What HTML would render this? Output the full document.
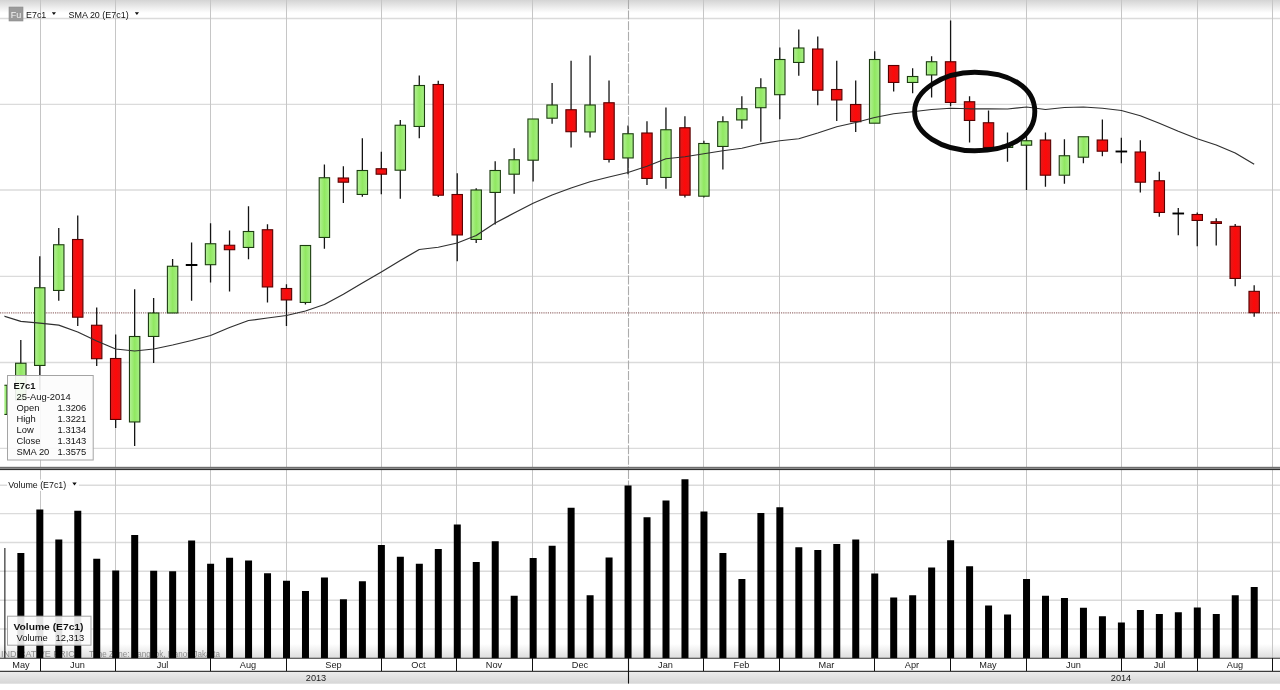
<!DOCTYPE html>
<html><head><meta charset="utf-8"><title>Chart</title>
<style>html,body{margin:0;padding:0;background:#fff;overflow:hidden}body{width:1280px;height:690px;position:relative}</style></head>
<body>
<svg width="1280" height="690" viewBox="0 0 1280 690" style="display:block;position:absolute;left:0;top:0">
<defs>
<linearGradient id="topg" x1="0" y1="0" x2="0" y2="1"><stop offset="0" stop-color="#d4d4d4"/><stop offset="1" stop-color="#ffffff"/></linearGradient>
<linearGradient id="botg" x1="0" y1="0" x2="0" y2="1"><stop offset="0" stop-color="#ffffff"/><stop offset="1" stop-color="#dcdcdc"/></linearGradient>
<linearGradient id="yrg" x1="0" y1="0" x2="0" y2="1"><stop offset="0" stop-color="#ededed"/><stop offset="1" stop-color="#d6d6d6"/></linearGradient>
<linearGradient id="gg" x1="0" y1="0" x2="1" y2="0"><stop offset="0" stop-color="#b4f098"/><stop offset="0.5" stop-color="#90e860"/><stop offset="1" stop-color="#a8ee88"/></linearGradient>
<linearGradient id="rg" x1="0" y1="0" x2="1" y2="0"><stop offset="0" stop-color="#dc1c1c"/><stop offset="0.5" stop-color="#ff0808"/><stop offset="1" stop-color="#e01818"/></linearGradient>
<clipPath id="clipm"><rect x="4.4" y="0" width="1276" height="467"/></clipPath>
<clipPath id="clipv"><rect x="4.4" y="470" width="1276" height="188.3"/></clipPath>
</defs>
<rect x="0" y="0" width="1280" height="690" fill="#ffffff"/>
<rect x="0" y="0" width="1280" height="13" fill="url(#topg)"/>
<rect x="0" y="644" width="1280" height="14.5" fill="url(#botg)"/>
<g><line x1="0" x2="1280" y1="18.5" y2="18.5" stroke="#dbdbdb" stroke-width="1.35"/><line x1="0" x2="1280" y1="104.4" y2="104.4" stroke="#dbdbdb" stroke-width="1.35"/><line x1="0" x2="1280" y1="190.0" y2="190.0" stroke="#dbdbdb" stroke-width="1.35"/><line x1="0" x2="1280" y1="276.3" y2="276.3" stroke="#dbdbdb" stroke-width="1.35"/><line x1="0" x2="1280" y1="362.5" y2="362.5" stroke="#dbdbdb" stroke-width="1.35"/><line x1="0" x2="1280" y1="448.3" y2="448.3" stroke="#dbdbdb" stroke-width="1.35"/><line x1="0" x2="1280" y1="485.2" y2="485.2" stroke="#dbdbdb" stroke-width="1.35"/><line x1="0" x2="1280" y1="513.6" y2="513.6" stroke="#dbdbdb" stroke-width="1.35"/><line x1="0" x2="1280" y1="542.5" y2="542.5" stroke="#dbdbdb" stroke-width="1.35"/><line x1="0" x2="1280" y1="571.2" y2="571.2" stroke="#dbdbdb" stroke-width="1.35"/><line x1="0" x2="1280" y1="600.2" y2="600.2" stroke="#dbdbdb" stroke-width="1.35"/><line x1="0" x2="1280" y1="629.0" y2="629.0" stroke="#dbdbdb" stroke-width="1.35"/><line x1="40.5" x2="40.5" y1="0" y2="467" stroke="#c6c6c6" stroke-width="1"/><line x1="40.5" x2="40.5" y1="470" y2="658" stroke="#c6c6c6" stroke-width="1"/><line x1="115.5" x2="115.5" y1="0" y2="467" stroke="#c6c6c6" stroke-width="1"/><line x1="115.5" x2="115.5" y1="470" y2="658" stroke="#c6c6c6" stroke-width="1"/><line x1="210.5" x2="210.5" y1="0" y2="467" stroke="#c6c6c6" stroke-width="1"/><line x1="210.5" x2="210.5" y1="470" y2="658" stroke="#c6c6c6" stroke-width="1"/><line x1="286.5" x2="286.5" y1="0" y2="467" stroke="#c6c6c6" stroke-width="1"/><line x1="286.5" x2="286.5" y1="470" y2="658" stroke="#c6c6c6" stroke-width="1"/><line x1="381.5" x2="381.5" y1="0" y2="467" stroke="#c6c6c6" stroke-width="1"/><line x1="381.5" x2="381.5" y1="470" y2="658" stroke="#c6c6c6" stroke-width="1"/><line x1="456.5" x2="456.5" y1="0" y2="467" stroke="#c6c6c6" stroke-width="1"/><line x1="456.5" x2="456.5" y1="470" y2="658" stroke="#c6c6c6" stroke-width="1"/><line x1="532.5" x2="532.5" y1="0" y2="467" stroke="#c6c6c6" stroke-width="1"/><line x1="532.5" x2="532.5" y1="470" y2="658" stroke="#c6c6c6" stroke-width="1"/><line x1="703.5" x2="703.5" y1="0" y2="467" stroke="#c6c6c6" stroke-width="1"/><line x1="703.5" x2="703.5" y1="470" y2="658" stroke="#c6c6c6" stroke-width="1"/><line x1="779.5" x2="779.5" y1="0" y2="467" stroke="#c6c6c6" stroke-width="1"/><line x1="779.5" x2="779.5" y1="470" y2="658" stroke="#c6c6c6" stroke-width="1"/><line x1="874.5" x2="874.5" y1="0" y2="467" stroke="#c6c6c6" stroke-width="1"/><line x1="874.5" x2="874.5" y1="470" y2="658" stroke="#c6c6c6" stroke-width="1"/><line x1="950.5" x2="950.5" y1="0" y2="467" stroke="#c6c6c6" stroke-width="1"/><line x1="950.5" x2="950.5" y1="470" y2="658" stroke="#c6c6c6" stroke-width="1"/><line x1="1026.5" x2="1026.5" y1="0" y2="467" stroke="#c6c6c6" stroke-width="1"/><line x1="1026.5" x2="1026.5" y1="470" y2="658" stroke="#c6c6c6" stroke-width="1"/><line x1="1121.5" x2="1121.5" y1="0" y2="467" stroke="#c6c6c6" stroke-width="1"/><line x1="1121.5" x2="1121.5" y1="470" y2="658" stroke="#c6c6c6" stroke-width="1"/><line x1="1197.5" x2="1197.5" y1="0" y2="467" stroke="#c6c6c6" stroke-width="1"/><line x1="1197.5" x2="1197.5" y1="470" y2="658" stroke="#c6c6c6" stroke-width="1"/><line x1="1272.5" x2="1272.5" y1="0" y2="467" stroke="#c6c6c6" stroke-width="1"/><line x1="1272.5" x2="1272.5" y1="470" y2="658" stroke="#c6c6c6" stroke-width="1"/><line x1="628.5" x2="628.5" y1="0" y2="467" stroke="#acacac" stroke-width="1.1" stroke-dasharray="9 1.6"/><line x1="628.5" x2="628.5" y1="470" y2="658" stroke="#acacac" stroke-width="1.1" stroke-dasharray="9 1.6"/></g>
<line x1="0" x2="1280" y1="312.9" y2="312.9" stroke="#9c7474" stroke-width="1.3" stroke-dasharray="1.2 1"/>
<text x="1" y="657" font-family='"Liberation Sans", sans-serif' font-size="9" fill="#8c8c8c" xml:space="preserve"><tspan>INDICATIVE PRICE</tspan><tspan x="89" textLength="131" lengthAdjust="spacingAndGlyphs">Time Zone: Bangkok, Hanoi, Jakarta</tspan></text>
<g clip-path="url(#clipv)"><rect x="-1.63" y="548" width="7" height="112.00" fill="#000"/><rect x="17.35" y="553" width="7" height="107.00" fill="#000"/><rect x="36.33" y="509.5" width="7" height="150.50" fill="#000"/><rect x="55.30" y="539.5" width="7" height="120.50" fill="#000"/><rect x="74.28" y="510.75" width="7" height="149.25" fill="#000"/><rect x="93.25" y="558.75" width="7" height="101.25" fill="#000"/><rect x="112.22" y="570.5" width="7" height="89.50" fill="#000"/><rect x="131.20" y="535" width="7" height="125.00" fill="#000"/><rect x="150.18" y="570.75" width="7" height="89.25" fill="#000"/><rect x="169.15" y="571.25" width="7" height="88.75" fill="#000"/><rect x="188.13" y="540.5" width="7" height="119.50" fill="#000"/><rect x="207.10" y="563.75" width="7" height="96.25" fill="#000"/><rect x="226.08" y="557.75" width="7" height="102.25" fill="#000"/><rect x="245.05" y="560.5" width="7" height="99.50" fill="#000"/><rect x="264.03" y="573.25" width="7" height="86.75" fill="#000"/><rect x="283.00" y="580.75" width="7" height="79.25" fill="#000"/><rect x="301.98" y="591" width="7" height="69.00" fill="#000"/><rect x="320.95" y="577.5" width="7" height="82.50" fill="#000"/><rect x="339.93" y="599.25" width="7" height="60.75" fill="#000"/><rect x="358.90" y="581.25" width="7" height="78.75" fill="#000"/><rect x="377.88" y="545" width="7" height="115.00" fill="#000"/><rect x="396.85" y="556.75" width="7" height="103.25" fill="#000"/><rect x="415.83" y="563.75" width="7" height="96.25" fill="#000"/><rect x="434.80" y="549" width="7" height="111.00" fill="#000"/><rect x="453.78" y="524.5" width="7" height="135.50" fill="#000"/><rect x="472.75" y="562" width="7" height="98.00" fill="#000"/><rect x="491.73" y="541.25" width="7" height="118.75" fill="#000"/><rect x="510.70" y="595.75" width="7" height="64.25" fill="#000"/><rect x="529.67" y="558" width="7" height="102.00" fill="#000"/><rect x="548.65" y="545.75" width="7" height="114.25" fill="#000"/><rect x="567.62" y="507.75" width="7" height="152.25" fill="#000"/><rect x="586.60" y="595.25" width="7" height="64.75" fill="#000"/><rect x="605.57" y="557.5" width="7" height="102.50" fill="#000"/><rect x="624.55" y="485.5" width="7" height="174.50" fill="#000"/><rect x="643.52" y="517.25" width="7" height="142.75" fill="#000"/><rect x="662.50" y="500.5" width="7" height="159.50" fill="#000"/><rect x="681.47" y="479.25" width="7" height="180.75" fill="#000"/><rect x="700.45" y="511.5" width="7" height="148.50" fill="#000"/><rect x="719.42" y="553" width="7" height="107.00" fill="#000"/><rect x="738.40" y="579" width="7" height="81.00" fill="#000"/><rect x="757.38" y="513" width="7" height="147.00" fill="#000"/><rect x="776.35" y="507.25" width="7" height="152.75" fill="#000"/><rect x="795.32" y="547.25" width="7" height="112.75" fill="#000"/><rect x="814.30" y="550" width="7" height="110.00" fill="#000"/><rect x="833.27" y="544" width="7" height="116.00" fill="#000"/><rect x="852.25" y="539.5" width="7" height="120.50" fill="#000"/><rect x="871.23" y="573.5" width="7" height="86.50" fill="#000"/><rect x="890.20" y="597.5" width="7" height="62.50" fill="#000"/><rect x="909.17" y="595.25" width="7" height="64.75" fill="#000"/><rect x="928.15" y="567.5" width="7" height="92.50" fill="#000"/><rect x="947.12" y="540.25" width="7" height="119.75" fill="#000"/><rect x="966.10" y="566.25" width="7" height="93.75" fill="#000"/><rect x="985.07" y="605.5" width="7" height="54.50" fill="#000"/><rect x="1004.05" y="614.5" width="7" height="45.50" fill="#000"/><rect x="1023.03" y="579" width="7" height="81.00" fill="#000"/><rect x="1042.00" y="595.75" width="7" height="64.25" fill="#000"/><rect x="1060.97" y="598" width="7" height="62.00" fill="#000"/><rect x="1079.95" y="607.75" width="7" height="52.25" fill="#000"/><rect x="1098.92" y="616.25" width="7" height="43.75" fill="#000"/><rect x="1117.90" y="622.5" width="7" height="37.50" fill="#000"/><rect x="1136.88" y="610" width="7" height="50.00" fill="#000"/><rect x="1155.85" y="614" width="7" height="46.00" fill="#000"/><rect x="1174.83" y="612.25" width="7" height="47.75" fill="#000"/><rect x="1193.80" y="607.5" width="7" height="52.50" fill="#000"/><rect x="1212.78" y="614" width="7" height="46.00" fill="#000"/><rect x="1231.75" y="595.25" width="7" height="64.75" fill="#000"/><rect x="1250.72" y="587" width="7" height="73.00" fill="#000"/></g>
<g clip-path="url(#clipm)"><rect x="-3.38" y="385.25" width="10.4" height="29.20" fill="url(#gg)" stroke="#1c3c10" stroke-width="1.1"/><line x1="20.80" x2="20.80" y1="340" y2="363.5" stroke="#141414" stroke-width="1.3"/><rect x="15.60" y="363.25" width="10.4" height="36.70" fill="url(#gg)" stroke="#1c3c10" stroke-width="1.1"/><line x1="39.78" x2="39.78" y1="256.25" y2="288.0" stroke="#141414" stroke-width="1.3"/><line x1="39.78" x2="39.78" y1="365.0" y2="390" stroke="#141414" stroke-width="1.3"/><rect x="34.58" y="287.75" width="10.4" height="77.70" fill="url(#gg)" stroke="#1c3c10" stroke-width="1.1"/><line x1="58.75" x2="58.75" y1="228" y2="245.0" stroke="#141414" stroke-width="1.3"/><line x1="58.75" x2="58.75" y1="290.0" y2="300.75" stroke="#141414" stroke-width="1.3"/><rect x="53.55" y="244.75" width="10.4" height="45.70" fill="url(#gg)" stroke="#1c3c10" stroke-width="1.1"/><line x1="77.73" x2="77.73" y1="215.5" y2="239.75" stroke="#141414" stroke-width="1.3"/><line x1="77.73" x2="77.73" y1="316.75" y2="326" stroke="#141414" stroke-width="1.3"/><rect x="72.53" y="239.50" width="10.4" height="77.70" fill="url(#rg)" stroke="#5a0000" stroke-width="1.1"/><line x1="96.70" x2="96.70" y1="307.5" y2="325.5" stroke="#141414" stroke-width="1.3"/><line x1="96.70" x2="96.70" y1="358.25" y2="366" stroke="#141414" stroke-width="1.3"/><rect x="91.50" y="325.25" width="10.4" height="33.45" fill="url(#rg)" stroke="#5a0000" stroke-width="1.1"/><line x1="115.67" x2="115.67" y1="334.5" y2="358.75" stroke="#141414" stroke-width="1.3"/><line x1="115.67" x2="115.67" y1="419.0" y2="428" stroke="#141414" stroke-width="1.3"/><rect x="110.47" y="358.50" width="10.4" height="60.95" fill="url(#rg)" stroke="#5a0000" stroke-width="1.1"/><line x1="134.65" x2="134.65" y1="289.25" y2="336.75" stroke="#141414" stroke-width="1.3"/><line x1="134.65" x2="134.65" y1="421.5" y2="446" stroke="#141414" stroke-width="1.3"/><rect x="129.45" y="336.50" width="10.4" height="85.45" fill="url(#gg)" stroke="#1c3c10" stroke-width="1.1"/><line x1="153.63" x2="153.63" y1="298" y2="313.25" stroke="#141414" stroke-width="1.3"/><line x1="153.63" x2="153.63" y1="336.0" y2="363" stroke="#141414" stroke-width="1.3"/><rect x="148.43" y="313.00" width="10.4" height="23.45" fill="url(#gg)" stroke="#1c3c10" stroke-width="1.1"/><line x1="172.60" x2="172.60" y1="259" y2="266.5" stroke="#141414" stroke-width="1.3"/><rect x="167.40" y="266.25" width="10.4" height="46.70" fill="url(#gg)" stroke="#1c3c10" stroke-width="1.1"/><line x1="191.58" x2="191.58" y1="242.5" y2="265.5" stroke="#141414" stroke-width="1.3"/><line x1="191.58" x2="191.58" y1="264.5" y2="300.75" stroke="#141414" stroke-width="1.3"/><line x1="185.78" x2="197.38" y1="265" y2="265" stroke="#000" stroke-width="1.9"/><line x1="210.55" x2="210.55" y1="223.25" y2="244.0" stroke="#141414" stroke-width="1.3"/><line x1="210.55" x2="210.55" y1="264.25" y2="282.5" stroke="#141414" stroke-width="1.3"/><rect x="205.35" y="243.75" width="10.4" height="20.95" fill="url(#gg)" stroke="#1c3c10" stroke-width="1.1"/><line x1="229.53" x2="229.53" y1="230.5" y2="245.5" stroke="#141414" stroke-width="1.3"/><line x1="229.53" x2="229.53" y1="249.25" y2="291.5" stroke="#141414" stroke-width="1.3"/><rect x="224.33" y="245.25" width="10.4" height="4.45" fill="url(#rg)" stroke="#5a0000" stroke-width="1.1"/><line x1="248.50" x2="248.50" y1="206.25" y2="231.75" stroke="#141414" stroke-width="1.3"/><line x1="248.50" x2="248.50" y1="247.0" y2="259.25" stroke="#141414" stroke-width="1.3"/><rect x="243.30" y="231.50" width="10.4" height="15.95" fill="url(#gg)" stroke="#1c3c10" stroke-width="1.1"/><line x1="267.48" x2="267.48" y1="224.25" y2="230.0" stroke="#141414" stroke-width="1.3"/><line x1="267.48" x2="267.48" y1="286.5" y2="302.5" stroke="#141414" stroke-width="1.3"/><rect x="262.28" y="229.75" width="10.4" height="57.20" fill="url(#rg)" stroke="#5a0000" stroke-width="1.1"/><line x1="286.45" x2="286.45" y1="284.25" y2="288.75" stroke="#141414" stroke-width="1.3"/><line x1="286.45" x2="286.45" y1="299.5" y2="326" stroke="#141414" stroke-width="1.3"/><rect x="281.25" y="288.50" width="10.4" height="11.45" fill="url(#rg)" stroke="#5a0000" stroke-width="1.1"/><line x1="305.43" x2="305.43" y1="302.0" y2="304.5" stroke="#141414" stroke-width="1.3"/><rect x="300.23" y="245.50" width="10.4" height="56.95" fill="url(#gg)" stroke="#1c3c10" stroke-width="1.1"/><line x1="324.40" x2="324.40" y1="164.5" y2="178.0" stroke="#141414" stroke-width="1.3"/><line x1="324.40" x2="324.40" y1="237.0" y2="248.75" stroke="#141414" stroke-width="1.3"/><rect x="319.20" y="177.75" width="10.4" height="59.70" fill="url(#gg)" stroke="#1c3c10" stroke-width="1.1"/><line x1="343.38" x2="343.38" y1="166.25" y2="178.25" stroke="#141414" stroke-width="1.3"/><line x1="343.38" x2="343.38" y1="181.75" y2="203" stroke="#141414" stroke-width="1.3"/><rect x="338.18" y="178.00" width="10.4" height="4.20" fill="url(#rg)" stroke="#5a0000" stroke-width="1.1"/><line x1="362.35" x2="362.35" y1="138.25" y2="170.75" stroke="#141414" stroke-width="1.3"/><line x1="362.35" x2="362.35" y1="194.0" y2="196.75" stroke="#141414" stroke-width="1.3"/><rect x="357.15" y="170.50" width="10.4" height="23.95" fill="url(#gg)" stroke="#1c3c10" stroke-width="1.1"/><line x1="381.33" x2="381.33" y1="151.75" y2="169.0" stroke="#141414" stroke-width="1.3"/><line x1="381.33" x2="381.33" y1="173.75" y2="194.25" stroke="#141414" stroke-width="1.3"/><rect x="376.13" y="168.75" width="10.4" height="5.45" fill="url(#rg)" stroke="#5a0000" stroke-width="1.1"/><line x1="400.30" x2="400.30" y1="120" y2="125.5" stroke="#141414" stroke-width="1.3"/><line x1="400.30" x2="400.30" y1="169.75" y2="198.75" stroke="#141414" stroke-width="1.3"/><rect x="395.10" y="125.25" width="10.4" height="44.95" fill="url(#gg)" stroke="#1c3c10" stroke-width="1.1"/><line x1="419.28" x2="419.28" y1="75.5" y2="85.75" stroke="#141414" stroke-width="1.3"/><line x1="419.28" x2="419.28" y1="126.0" y2="138.25" stroke="#141414" stroke-width="1.3"/><rect x="414.08" y="85.50" width="10.4" height="40.95" fill="url(#gg)" stroke="#1c3c10" stroke-width="1.1"/><line x1="438.25" x2="438.25" y1="80.75" y2="84.75" stroke="#141414" stroke-width="1.3"/><line x1="438.25" x2="438.25" y1="194.75" y2="197" stroke="#141414" stroke-width="1.3"/><rect x="433.05" y="84.50" width="10.4" height="110.70" fill="url(#rg)" stroke="#5a0000" stroke-width="1.1"/><line x1="457.23" x2="457.23" y1="173.25" y2="194.75" stroke="#141414" stroke-width="1.3"/><line x1="457.23" x2="457.23" y1="234.5" y2="261.25" stroke="#141414" stroke-width="1.3"/><rect x="452.03" y="194.50" width="10.4" height="40.45" fill="url(#rg)" stroke="#5a0000" stroke-width="1.1"/><line x1="476.20" x2="476.20" y1="188.25" y2="190.25" stroke="#141414" stroke-width="1.3"/><line x1="476.20" x2="476.20" y1="239.0" y2="243" stroke="#141414" stroke-width="1.3"/><rect x="471.00" y="190.00" width="10.4" height="49.45" fill="url(#gg)" stroke="#1c3c10" stroke-width="1.1"/><line x1="495.18" x2="495.18" y1="161.25" y2="170.75" stroke="#141414" stroke-width="1.3"/><line x1="495.18" x2="495.18" y1="192.0" y2="224.5" stroke="#141414" stroke-width="1.3"/><rect x="489.98" y="170.50" width="10.4" height="21.95" fill="url(#gg)" stroke="#1c3c10" stroke-width="1.1"/><line x1="514.15" x2="514.15" y1="148.25" y2="160.0" stroke="#141414" stroke-width="1.3"/><line x1="514.15" x2="514.15" y1="173.75" y2="193.75" stroke="#141414" stroke-width="1.3"/><rect x="508.95" y="159.75" width="10.4" height="14.45" fill="url(#gg)" stroke="#1c3c10" stroke-width="1.1"/><line x1="533.12" x2="533.12" y1="159.75" y2="181.5" stroke="#141414" stroke-width="1.3"/><rect x="527.92" y="119.00" width="10.4" height="41.20" fill="url(#gg)" stroke="#1c3c10" stroke-width="1.1"/><line x1="552.10" x2="552.10" y1="83" y2="105.25" stroke="#141414" stroke-width="1.3"/><line x1="552.10" x2="552.10" y1="117.75" y2="123.75" stroke="#141414" stroke-width="1.3"/><rect x="546.90" y="105.00" width="10.4" height="13.20" fill="url(#gg)" stroke="#1c3c10" stroke-width="1.1"/><line x1="571.08" x2="571.08" y1="60.75" y2="110.0" stroke="#141414" stroke-width="1.3"/><line x1="571.08" x2="571.08" y1="131.25" y2="147.5" stroke="#141414" stroke-width="1.3"/><rect x="565.88" y="109.75" width="10.4" height="21.95" fill="url(#rg)" stroke="#5a0000" stroke-width="1.1"/><line x1="590.05" x2="590.05" y1="55.5" y2="105.25" stroke="#141414" stroke-width="1.3"/><line x1="590.05" x2="590.05" y1="131.5" y2="137.5" stroke="#141414" stroke-width="1.3"/><rect x="584.85" y="105.00" width="10.4" height="26.95" fill="url(#gg)" stroke="#1c3c10" stroke-width="1.1"/><line x1="609.02" x2="609.02" y1="80.5" y2="103.0" stroke="#141414" stroke-width="1.3"/><line x1="609.02" x2="609.02" y1="159.0" y2="162.5" stroke="#141414" stroke-width="1.3"/><rect x="603.82" y="102.75" width="10.4" height="56.70" fill="url(#rg)" stroke="#5a0000" stroke-width="1.1"/><line x1="628.00" x2="628.00" y1="125.5" y2="134.0" stroke="#141414" stroke-width="1.3"/><line x1="628.00" x2="628.00" y1="157.5" y2="174.25" stroke="#141414" stroke-width="1.3"/><rect x="622.80" y="133.75" width="10.4" height="24.20" fill="url(#gg)" stroke="#1c3c10" stroke-width="1.1"/><line x1="646.98" x2="646.98" y1="121.25" y2="133.25" stroke="#141414" stroke-width="1.3"/><line x1="646.98" x2="646.98" y1="178.0" y2="185" stroke="#141414" stroke-width="1.3"/><rect x="641.77" y="133.00" width="10.4" height="45.45" fill="url(#rg)" stroke="#5a0000" stroke-width="1.1"/><line x1="665.95" x2="665.95" y1="107.5" y2="130.0" stroke="#141414" stroke-width="1.3"/><line x1="665.95" x2="665.95" y1="177.0" y2="188.75" stroke="#141414" stroke-width="1.3"/><rect x="660.75" y="129.75" width="10.4" height="47.70" fill="url(#gg)" stroke="#1c3c10" stroke-width="1.1"/><line x1="684.92" x2="684.92" y1="116.25" y2="128.0" stroke="#141414" stroke-width="1.3"/><line x1="684.92" x2="684.92" y1="194.75" y2="197.5" stroke="#141414" stroke-width="1.3"/><rect x="679.72" y="127.75" width="10.4" height="67.45" fill="url(#rg)" stroke="#5a0000" stroke-width="1.1"/><line x1="703.90" x2="703.90" y1="140.75" y2="143.75" stroke="#141414" stroke-width="1.3"/><line x1="703.90" x2="703.90" y1="195.75" y2="197.5" stroke="#141414" stroke-width="1.3"/><rect x="698.70" y="143.50" width="10.4" height="52.70" fill="url(#gg)" stroke="#1c3c10" stroke-width="1.1"/><line x1="722.88" x2="722.88" y1="116.25" y2="122.0" stroke="#141414" stroke-width="1.3"/><line x1="722.88" x2="722.88" y1="146.0" y2="169.5" stroke="#141414" stroke-width="1.3"/><rect x="717.67" y="121.75" width="10.4" height="24.70" fill="url(#gg)" stroke="#1c3c10" stroke-width="1.1"/><line x1="741.85" x2="741.85" y1="96.25" y2="109.0" stroke="#141414" stroke-width="1.3"/><line x1="741.85" x2="741.85" y1="119.5" y2="128.75" stroke="#141414" stroke-width="1.3"/><rect x="736.65" y="108.75" width="10.4" height="11.20" fill="url(#gg)" stroke="#1c3c10" stroke-width="1.1"/><line x1="760.83" x2="760.83" y1="78.25" y2="88.0" stroke="#141414" stroke-width="1.3"/><line x1="760.83" x2="760.83" y1="107.25" y2="141.75" stroke="#141414" stroke-width="1.3"/><rect x="755.62" y="87.75" width="10.4" height="19.95" fill="url(#gg)" stroke="#1c3c10" stroke-width="1.1"/><line x1="779.80" x2="779.80" y1="47.5" y2="59.75" stroke="#141414" stroke-width="1.3"/><line x1="779.80" x2="779.80" y1="94.25" y2="119.25" stroke="#141414" stroke-width="1.3"/><rect x="774.60" y="59.50" width="10.4" height="35.20" fill="url(#gg)" stroke="#1c3c10" stroke-width="1.1"/><line x1="798.77" x2="798.77" y1="29.5" y2="48.25" stroke="#141414" stroke-width="1.3"/><line x1="798.77" x2="798.77" y1="62.0" y2="75.75" stroke="#141414" stroke-width="1.3"/><rect x="793.57" y="48.00" width="10.4" height="14.45" fill="url(#gg)" stroke="#1c3c10" stroke-width="1.1"/><line x1="817.75" x2="817.75" y1="36.5" y2="49.25" stroke="#141414" stroke-width="1.3"/><line x1="817.75" x2="817.75" y1="89.75" y2="105.25" stroke="#141414" stroke-width="1.3"/><rect x="812.55" y="49.00" width="10.4" height="41.20" fill="url(#rg)" stroke="#5a0000" stroke-width="1.1"/><line x1="836.73" x2="836.73" y1="60.75" y2="89.75" stroke="#141414" stroke-width="1.3"/><line x1="836.73" x2="836.73" y1="99.5" y2="121" stroke="#141414" stroke-width="1.3"/><rect x="831.52" y="89.50" width="10.4" height="10.45" fill="url(#rg)" stroke="#5a0000" stroke-width="1.1"/><line x1="855.70" x2="855.70" y1="80.5" y2="104.75" stroke="#141414" stroke-width="1.3"/><line x1="855.70" x2="855.70" y1="121.25" y2="132" stroke="#141414" stroke-width="1.3"/><rect x="850.50" y="104.50" width="10.4" height="17.20" fill="url(#rg)" stroke="#5a0000" stroke-width="1.1"/><line x1="874.68" x2="874.68" y1="51.25" y2="59.75" stroke="#141414" stroke-width="1.3"/><rect x="869.48" y="59.50" width="10.4" height="63.70" fill="url(#gg)" stroke="#1c3c10" stroke-width="1.1"/><line x1="893.65" x2="893.65" y1="82.0" y2="91.5" stroke="#141414" stroke-width="1.3"/><rect x="888.45" y="65.50" width="10.4" height="16.95" fill="url(#rg)" stroke="#5a0000" stroke-width="1.1"/><line x1="912.62" x2="912.62" y1="68.25" y2="76.75" stroke="#141414" stroke-width="1.3"/><line x1="912.62" x2="912.62" y1="82.0" y2="93.25" stroke="#141414" stroke-width="1.3"/><rect x="907.42" y="76.50" width="10.4" height="5.95" fill="url(#gg)" stroke="#1c3c10" stroke-width="1.1"/><line x1="931.60" x2="931.60" y1="56.25" y2="62.0" stroke="#141414" stroke-width="1.3"/><line x1="931.60" x2="931.60" y1="74.5" y2="97.5" stroke="#141414" stroke-width="1.3"/><rect x="926.40" y="61.75" width="10.4" height="13.20" fill="url(#gg)" stroke="#1c3c10" stroke-width="1.1"/><line x1="950.58" x2="950.58" y1="20.5" y2="62.0" stroke="#141414" stroke-width="1.3"/><line x1="950.58" x2="950.58" y1="102.0" y2="106.25" stroke="#141414" stroke-width="1.3"/><rect x="945.38" y="61.75" width="10.4" height="40.70" fill="url(#rg)" stroke="#5a0000" stroke-width="1.1"/><line x1="969.55" x2="969.55" y1="96.25" y2="102.0" stroke="#141414" stroke-width="1.3"/><line x1="969.55" x2="969.55" y1="120.0" y2="142.5" stroke="#141414" stroke-width="1.3"/><rect x="964.35" y="101.75" width="10.4" height="18.70" fill="url(#rg)" stroke="#5a0000" stroke-width="1.1"/><line x1="988.52" x2="988.52" y1="110.5" y2="123.0" stroke="#141414" stroke-width="1.3"/><line x1="988.52" x2="988.52" y1="147.0" y2="150" stroke="#141414" stroke-width="1.3"/><rect x="983.32" y="122.75" width="10.4" height="24.70" fill="url(#rg)" stroke="#5a0000" stroke-width="1.1"/><line x1="1007.50" x2="1007.50" y1="132.5" y2="145.5" stroke="#141414" stroke-width="1.3"/><line x1="1007.50" x2="1007.50" y1="147.0" y2="161.75" stroke="#141414" stroke-width="1.3"/><rect x="1002.30" y="145.25" width="10.4" height="2.20" fill="url(#gg)" stroke="#1c3c10" stroke-width="1.1"/><line x1="1026.48" x2="1026.48" y1="133.75" y2="141.0" stroke="#141414" stroke-width="1.3"/><line x1="1026.48" x2="1026.48" y1="144.75" y2="190" stroke="#141414" stroke-width="1.3"/><rect x="1021.28" y="140.75" width="10.4" height="4.45" fill="url(#gg)" stroke="#1c3c10" stroke-width="1.1"/><line x1="1045.45" x2="1045.45" y1="132.5" y2="140.25" stroke="#141414" stroke-width="1.3"/><line x1="1045.45" x2="1045.45" y1="174.75" y2="186.75" stroke="#141414" stroke-width="1.3"/><rect x="1040.25" y="140.00" width="10.4" height="35.20" fill="url(#rg)" stroke="#5a0000" stroke-width="1.1"/><line x1="1064.42" x2="1064.42" y1="139.25" y2="156.0" stroke="#141414" stroke-width="1.3"/><line x1="1064.42" x2="1064.42" y1="174.75" y2="183.75" stroke="#141414" stroke-width="1.3"/><rect x="1059.22" y="155.75" width="10.4" height="19.45" fill="url(#gg)" stroke="#1c3c10" stroke-width="1.1"/><line x1="1083.40" x2="1083.40" y1="156.75" y2="163.25" stroke="#141414" stroke-width="1.3"/><rect x="1078.20" y="136.75" width="10.4" height="20.45" fill="url(#gg)" stroke="#1c3c10" stroke-width="1.1"/><line x1="1102.38" x2="1102.38" y1="119.5" y2="140.25" stroke="#141414" stroke-width="1.3"/><line x1="1102.38" x2="1102.38" y1="150.75" y2="156.25" stroke="#141414" stroke-width="1.3"/><rect x="1097.17" y="140.00" width="10.4" height="11.20" fill="url(#rg)" stroke="#5a0000" stroke-width="1.1"/><line x1="1121.35" x2="1121.35" y1="137.75" y2="152.0" stroke="#141414" stroke-width="1.3"/><line x1="1121.35" x2="1121.35" y1="151.0" y2="163.25" stroke="#141414" stroke-width="1.3"/><line x1="1115.55" x2="1127.15" y1="151.5" y2="151.5" stroke="#000" stroke-width="1.9"/><line x1="1140.33" x2="1140.33" y1="140.25" y2="152.25" stroke="#141414" stroke-width="1.3"/><line x1="1140.33" x2="1140.33" y1="181.75" y2="192.5" stroke="#141414" stroke-width="1.3"/><rect x="1135.12" y="152.00" width="10.4" height="30.20" fill="url(#rg)" stroke="#5a0000" stroke-width="1.1"/><line x1="1159.30" x2="1159.30" y1="171.75" y2="181.0" stroke="#141414" stroke-width="1.3"/><line x1="1159.30" x2="1159.30" y1="212.0" y2="216.75" stroke="#141414" stroke-width="1.3"/><rect x="1154.10" y="180.75" width="10.4" height="31.70" fill="url(#rg)" stroke="#5a0000" stroke-width="1.1"/><line x1="1178.28" x2="1178.28" y1="208" y2="214.0" stroke="#141414" stroke-width="1.3"/><line x1="1178.28" x2="1178.28" y1="213.0" y2="235.25" stroke="#141414" stroke-width="1.3"/><line x1="1172.48" x2="1184.08" y1="213.5" y2="213.5" stroke="#000" stroke-width="1.9"/><line x1="1197.25" x2="1197.25" y1="212.5" y2="214.75" stroke="#141414" stroke-width="1.3"/><line x1="1197.25" x2="1197.25" y1="220.0" y2="246.25" stroke="#141414" stroke-width="1.3"/><rect x="1192.05" y="214.50" width="10.4" height="5.95" fill="url(#rg)" stroke="#5a0000" stroke-width="1.1"/><line x1="1216.23" x2="1216.23" y1="218.25" y2="222.0" stroke="#141414" stroke-width="1.3"/><line x1="1216.23" x2="1216.23" y1="223.0" y2="245.5" stroke="#141414" stroke-width="1.3"/><rect x="1211.03" y="221.75" width="10.4" height="1.70" fill="url(#rg)" stroke="#5a0000" stroke-width="1.1"/><line x1="1235.20" x2="1235.20" y1="224.1" y2="226.6" stroke="#141414" stroke-width="1.3"/><line x1="1235.20" x2="1235.20" y1="278.0" y2="286.3" stroke="#141414" stroke-width="1.3"/><rect x="1230.00" y="226.35" width="10.4" height="52.10" fill="url(#rg)" stroke="#5a0000" stroke-width="1.1"/><line x1="1254.17" x2="1254.17" y1="285.2" y2="291.6" stroke="#141414" stroke-width="1.3"/><line x1="1254.17" x2="1254.17" y1="312.3" y2="316.7" stroke="#141414" stroke-width="1.3"/><rect x="1248.97" y="291.35" width="10.4" height="21.40" fill="url(#rg)" stroke="#5a0000" stroke-width="1.1"/></g>
<polyline clip-path="url(#clipm)" points="1.82,315.5 20.80,321.4 39.78,323.2 58.75,325.2 77.73,332 96.70,341 115.67,349 134.65,351 153.63,349 172.60,345 191.58,340.5 210.55,335.5 229.53,327.5 248.50,320.5 267.48,318 286.45,315.5 305.43,311 324.40,304.5 343.38,294.25 362.35,283 381.33,272 400.30,260.5 419.28,249.5 438.25,247.25 457.23,243 476.20,235.5 495.18,223 514.15,213 533.12,203.25 552.10,195 571.08,188 590.05,181.75 609.02,177 628.00,172.5 646.98,166.25 665.95,158.75 684.92,156.75 703.90,153.75 722.88,150.75 741.85,148.25 760.83,143.75 779.80,140.75 798.77,138.75 817.75,133 836.73,126.75 855.70,122.5 874.68,117.5 893.65,113.75 912.62,111.75 931.60,109.5 950.58,108.25 969.55,108.75 988.52,108.75 1007.50,109 1026.48,107 1045.45,109.5 1064.42,107.5 1083.40,107 1102.38,108.25 1121.35,110.5 1140.33,115.75 1159.30,123.25 1178.28,131.25 1197.25,138.75 1216.23,145 1235.20,153 1254.17,164.25" fill="none" stroke="#303030" stroke-width="1.25" stroke-linejoin="round"/>
<path d="M914.60 111.50 C914.60 90.53 942.55 72.30 974.70 72.30 C1010.76 72.30 1034.80 87.98 1034.80 111.50 C1034.80 135.41 1011.36 150.70 974.70 150.70 C941.04 150.70 914.60 133.45 914.60 111.50Z" fill="none" stroke="#080808" stroke-width="4.9"/>
<rect x="0" y="466.8" width="1280" height="1.2" fill="#6e6e6e"/><rect x="0" y="468" width="1280" height="0.8" fill="#a0a0a0"/><rect x="0" y="468.7" width="1280" height="1.4" fill="#303030"/>
<rect x="0" y="657.8" width="1280" height="1" fill="#111"/>
<rect x="0" y="658.8" width="1280" height="12.2" fill="#ffffff"/>
<rect x="0" y="671.7" width="1280" height="12" fill="url(#yrg)"/>
<rect x="0" y="670.8" width="1280" height="1" fill="#111"/>
<line x1="40.5" x2="40.5" y1="658" y2="671" stroke="#111" stroke-width="1"/>
<line x1="115.5" x2="115.5" y1="658" y2="671" stroke="#111" stroke-width="1"/>
<line x1="210.5" x2="210.5" y1="658" y2="671" stroke="#111" stroke-width="1"/>
<line x1="286.5" x2="286.5" y1="658" y2="671" stroke="#111" stroke-width="1"/>
<line x1="381.5" x2="381.5" y1="658" y2="671" stroke="#111" stroke-width="1"/>
<line x1="456.5" x2="456.5" y1="658" y2="671" stroke="#111" stroke-width="1"/>
<line x1="532.5" x2="532.5" y1="658" y2="671" stroke="#111" stroke-width="1"/>
<line x1="703.5" x2="703.5" y1="658" y2="671" stroke="#111" stroke-width="1"/>
<line x1="779.5" x2="779.5" y1="658" y2="671" stroke="#111" stroke-width="1"/>
<line x1="874.5" x2="874.5" y1="658" y2="671" stroke="#111" stroke-width="1"/>
<line x1="950.5" x2="950.5" y1="658" y2="671" stroke="#111" stroke-width="1"/>
<line x1="1026.5" x2="1026.5" y1="658" y2="671" stroke="#111" stroke-width="1"/>
<line x1="1121.5" x2="1121.5" y1="658" y2="671" stroke="#111" stroke-width="1"/>
<line x1="1197.5" x2="1197.5" y1="658" y2="671" stroke="#111" stroke-width="1"/>
<line x1="1272.5" x2="1272.5" y1="658" y2="671" stroke="#111" stroke-width="1"/>
<line x1="628.5" x2="628.5" y1="658" y2="683.6" stroke="#111" stroke-width="1.1"/>
<g font-family='"Liberation Sans", sans-serif' font-size="9.2" fill="#1a1a1a" text-anchor="middle">
<text x="21" y="668.2" >May</text>
<text x="77.5" y="668.2" >Jun</text>
<text x="162.5" y="668.2" >Jul</text>
<text x="248" y="668.2" >Aug</text>
<text x="333.5" y="668.2" >Sep</text>
<text x="418.5" y="668.2" >Oct</text>
<text x="494" y="668.2" >Nov</text>
<text x="580" y="668.2" >Dec</text>
<text x="665.5" y="668.2" >Jan</text>
<text x="741.5" y="668.2" >Feb</text>
<text x="826.5" y="668.2" >Mar</text>
<text x="912" y="668.2" >Apr</text>
<text x="988" y="668.2" >May</text>
<text x="1073.5" y="668.2" >Jun</text>
<text x="1159.5" y="668.2" >Jul</text>
<text x="1235" y="668.2" >Aug</text>
<text x="316" y="680.8" >2013</text>
<text x="1121" y="680.8" >2014</text>
</g>
<rect x="7" y="479.5" width="72" height="11.5" fill="#fff" fill-opacity="0.85"/>
<rect x="9" y="7" width="14" height="14" fill="#9a9a9a" stroke="#8a8a8a" stroke-width="0.6"/>
<text x="16" y="17.6" font-family='"Liberation Sans", sans-serif' font-size="9" fill="#f4f4f4" text-anchor="middle">Fu</text>
<g font-family='"Liberation Sans", sans-serif' font-size="9.4" fill="#111">
<text x="26" y="18.2" textLength="20.3" lengthAdjust="spacingAndGlyphs" font-size="9.8">E7c1</text>
<text x="68.5" y="18.2" textLength="60.2" lengthAdjust="spacingAndGlyphs" font-size="9.8">SMA 20 (E7c1)</text>
<text x="8.2" y="487.6" textLength="58" lengthAdjust="spacingAndGlyphs" font-size="9.8">Volume (E7c1)</text>
</g>
<path d="M51.8 12.2h4.2l-2.1 2.8z M134.8 12.2h4.2l-2.1 2.8z M72.3 482.6h4.4l-2.2 3z" fill="#111"/>
<rect x="7.5" y="375.5" width="85.7" height="84.5" fill="#fcfcfc" fill-opacity="0.9" stroke="#a4a4a4" stroke-width="1"/>
<g font-family='"Liberation Sans", sans-serif' font-size="9.4" fill="#111">
<text x="13.5" y="388.7" font-weight="bold" textLength="22" lengthAdjust="spacingAndGlyphs">E7c1</text>
<text x="16.5" y="399.8" >25-Aug-2014</text>
<text x="16.5" y="410.80" >Open</text>
<text x="57.6" y="410.80" >1.3206</text>
<text x="16.5" y="421.95" >High</text>
<text x="57.6" y="421.95" >1.3221</text>
<text x="16.5" y="433.10" >Low</text>
<text x="57.6" y="433.10" >1.3134</text>
<text x="16.5" y="444.25" >Close</text>
<text x="57.6" y="444.25" >1.3143</text>
<text x="16.5" y="455.40" >SMA 20</text>
<text x="57.6" y="455.40" >1.3575</text>
</g>
<rect x="7.5" y="616.2" width="83.5" height="29" fill="#fcfcfc" fill-opacity="0.9" stroke="#a4a4a4" stroke-width="1"/>
<g font-family='"Liberation Sans", sans-serif' font-size="9.4" fill="#111">
<text x="13.5" y="629.8" font-weight="bold" textLength="70" lengthAdjust="spacingAndGlyphs">Volume (E7c1)</text>
<text x="16.5" y="641" >Volume</text>
<text x="55.5" y="641" >12,313</text>
</g>
</svg>
</body></html>
